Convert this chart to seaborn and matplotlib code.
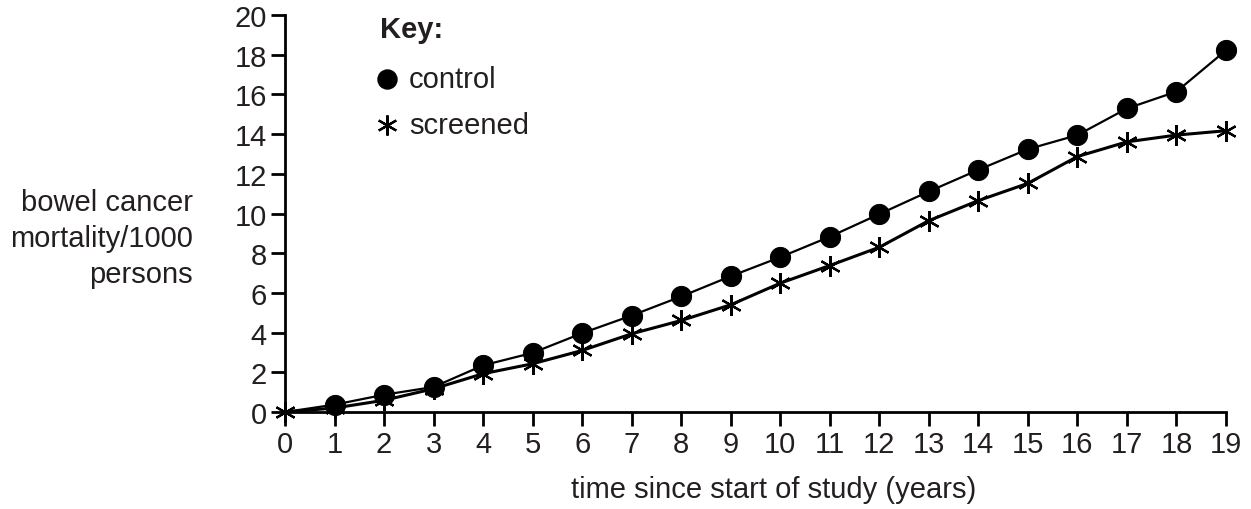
import matplotlib
matplotlib.use("Agg")
import matplotlib.pyplot as plt
from matplotlib.lines import Line2D
import seaborn as sns
import pandas as pd

years = list(range(0, 20))
control = [0, 0.37, 0.87, 1.26, 2.35, 2.98, 3.97, 4.86, 5.82, 6.84,
           7.80, 8.83, 9.97, 11.11, 12.2, 13.24, 13.95, 15.29, 16.14, 18.22]
screened = [0, 0.2, 0.59, 1.17, 1.93, 2.43, 3.1, 3.94, 4.61, 5.4,
            6.49, 7.38, 8.3, 9.64, 10.65, 11.52, 12.87, 13.61, 13.95, 14.17]
x_ticks = list(range(0, 20))
y_ticks = list(range(0, 21, 2))

sns.set_theme(style="white")
plt.rcParams['font.family'] = ['Liberation Sans', 'DejaVu Sans']

fs = 21
tc = "#231f20"
fig = plt.figure(figsize=(12.51, 5.10), dpi=100)
ax = fig.add_axes([285/1251, 1-413/510, (1226-285)/1251, (413-16)/510])

df_c = pd.DataFrame({"year": years, "value": control})
df_s = pd.DataFrame({"year": years, "value": screened})

sns.lineplot(data=df_s, x="year", y="value", ax=ax, color="black", lw=2.2,
             marker=(6, 2, 0), markersize=15, markeredgewidth=1.6,
             markeredgecolor="black", clip_on=False, zorder=3)
sns.lineplot(data=df_c, x="year", y="value", ax=ax, color="black", lw=1.6,
             marker="o", markersize=14.5, markevery=list(range(1, 20)),
             markeredgecolor="black", markerfacecolor="black", clip_on=False, zorder=4)

ax.set_xlim(0, 19)
ax.set_ylim(0, 20)
ax.set_xticks(x_ticks)
ax.set_yticks(y_ticks)
ax.tick_params(axis="both", which="major", direction="out", length=10, width=2,
               labelsize=fs, pad=3, color="black", labelcolor=tc,
               bottom=True, left=True)
for s in ["top", "right"]:
    ax.spines[s].set_visible(False)
for s in ["left", "bottom"]:
    ax.spines[s].set_color("black")
    ax.spines[s].set_linewidth(2)

ax.set_xlabel("")
ax.set_ylabel("")
fig.text(774/1251, 1-490/510, "time since start of study (years)", fontsize=fs, color=tc,
         ha="center", va="center")
fig.text(193/1251, 1-239/510, "bowel cancer\nmortality/1000\npersons", fontsize=fs,
         color=tc, ha="right", va="center", multialignment="right", linespacing=1.38)

# Key
fig.text(380/1251, 1-30/510, "Key:", fontsize=fs, fontweight="bold", color=tc,
         ha="left", va="center")
fig.text(409/1251, 1-80/510, "control", fontsize=fs, color=tc, ha="left", va="center")
fig.text(409/1251, 1-126/510, "screened", fontsize=fs, color=tc, ha="left", va="center")
fig.add_artist(Line2D([387/1251], [1-80/510], marker="o", markersize=13.7,
                      color="black", transform=fig.transFigure))
fig.add_artist(Line2D([387/1251], [1-126/510], marker=(6, 2, 0), markersize=14.5,
                      markeredgewidth=1.6, color="black", transform=fig.transFigure))

fig.savefig("out.png", dpi=100, facecolor="white")
